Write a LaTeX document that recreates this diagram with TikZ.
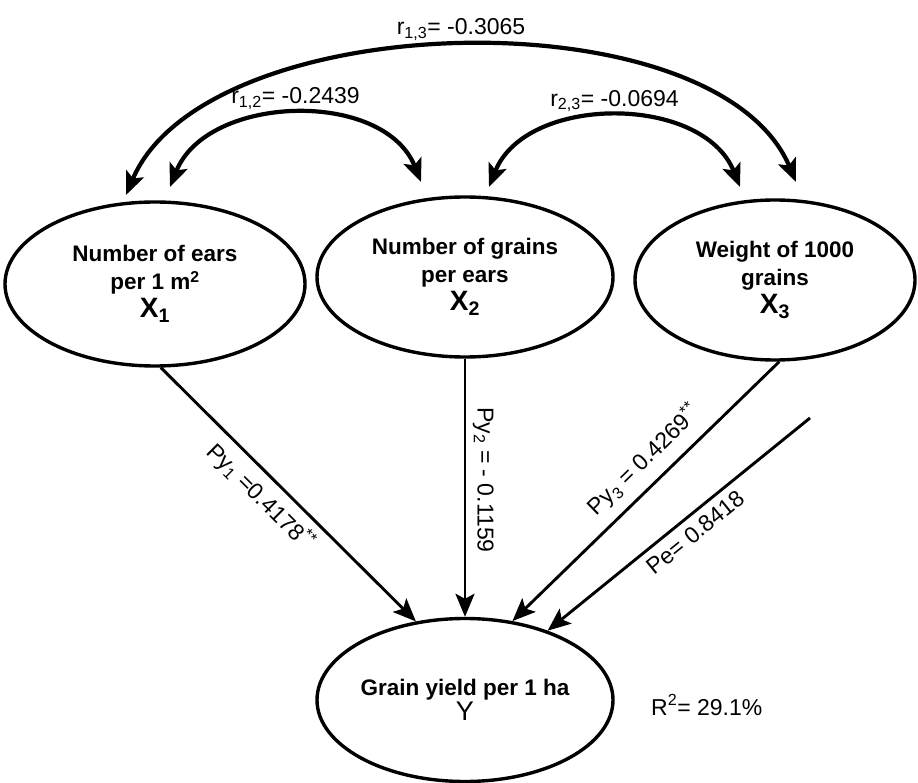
\documentclass[tikz,border=0pt]{standalone}
\usepackage{fontspec}
\setmainfont{Liberation Sans}
\usetikzlibrary{positioning, arrows.meta, shapes.geometric}

\begin{document}
\begin{tikzpicture}[
    x=1pt, y=-1pt,
    >={Stealth[length=23pt, width=19pt, inset=5pt]},
    factor/.style={draw, ellipse, line width=3.4pt, align=center, inner sep=0pt, font=\bfseries\fontsize{22.5}{28}\selectfont},
    corr/.style={<->, line width=4.2pt},
    effect/.style={->, line width=2.9pt},
    coef/.style={font=\fontsize{23}{26}\selectfont}
]
\useasboundingbox (0,0) rectangle (918,783);

% factors and yield
\node[factor, minimum width=300pt, minimum height=164pt] (x1) at (155,284) {Number of ears\\per 1 m\textsuperscript{2}\\{\fontsize{28}{28}\selectfont X\textsubscript{1}}};
\node[factor, minimum width=296pt, minimum height=160pt] (x2) at (465,277) {Number of grains\\per ears\\{\fontsize{28}{28}\selectfont X\textsubscript{2}}};
\node[factor, minimum width=280pt, minimum height=160pt] (x3) at (775,280) {Weight of 1000\\grains\\{\fontsize{28}{28}\selectfont X\textsubscript{3}}};
\node[factor, minimum width=296pt, minimum height=163pt, font=\bfseries\fontsize{22.5}{25}\selectfont] (y) at (465,700) {Grain yield per 1 ha\\{\mdseries\fontsize{27}{25}\selectfont Y}};
\node[coef, right=33pt of y, yshift=-5pt] (rsq) {R\textsuperscript{2}= 29.1\%};

% correlations
\coordinate (r12a) at (170,187);
\coordinate (r12b) at (421,182);
\coordinate (r23a) at (489,187);
\coordinate (r23b) at (740,187);
\coordinate (r13a) at (126,195);
\coordinate (r13b) at (796,182);
\draw[corr] (r12a) .. controls (207,94) and (384,89) .. (r12b) node[coef, pos=0.5, above=0pt] (r12) {r\textsubscript{1,2}= -0.2439};
\draw[corr] (r23a) .. controls (526,94) and (703,94) .. (r23b) node[coef, pos=0.5, above=0pt] (r23) {r\textsubscript{2,3}= -0.0694};
\draw[corr] (r13a) .. controls (206,6) and (716,-7) .. (r13b) node[coef, pos=0.5, above=1pt] (r13) {r\textsubscript{1,3}= -0.3065};

% path coefficients
\coordinate (err) at (810,418);
\draw[effect] (x1.-86) -- (y.122) node[coef, sloped, pos=0.45, below=4pt] (p1) {Py\textsubscript{1} =0.4178\textsuperscript{**}};
\draw[effect] (x2.south) -- (y.north) node[coef, sloped, pos=0.47, above=3pt] (p2) {Py\textsubscript{2} = - 0.1159};
\draw[effect] (x3.-87) -- (y.59) node[coef, sloped, pos=0.445, above=7pt] (p3) {Py\textsubscript{3} = 0.4269\textsuperscript{**}};
\draw[effect] (err) -- (y.40) node[coef, sloped, pos=0.476, below=4pt] (pe) {Pe= 0.8418};
\end{tikzpicture}
\end{document}
